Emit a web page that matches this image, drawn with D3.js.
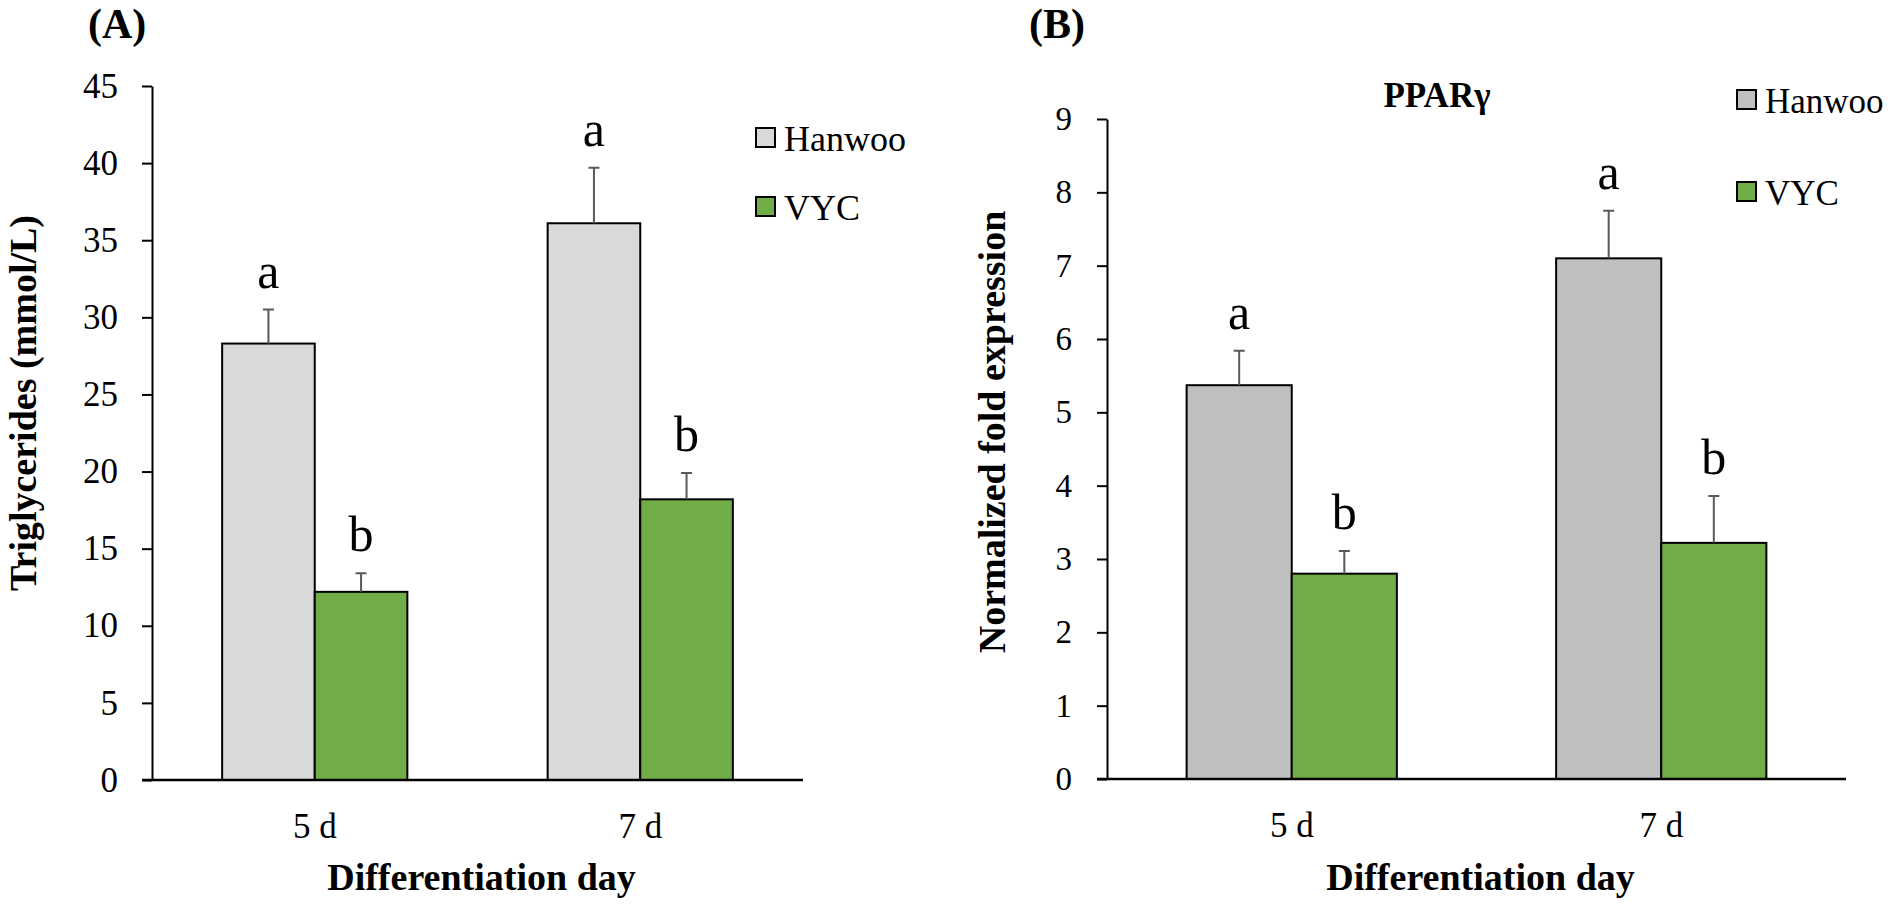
<!DOCTYPE html>
<html>
<meta charset="utf-8">
<style>
body { margin: 0; background: #fff; }
svg text { font-family: "Liberation Serif", "Times New Roman", serif; fill: #000; }
</style>
<body>
<script src="https://cdnjs.cloudflare.com/ajax/libs/d3/7.8.5/d3.min.js"></script>
<script>

var days = ["5 d", "7 d"];
var groups = ["Hanwoo", "VYC"];

// (A) triglycerides, mmol/L
var tgHanwoo = [28.3, 36.1];
var tgHanwooSE = [2.2, 3.6];
var tgVYC = [12.2, 18.2];
var tgVYCSE = [1.2, 1.7];
var tgTicks = [0, 5, 10, 15, 20, 25, 30, 35, 40, 45];

// (B) PPARγ normalized fold expression
var ppHanwoo = [5.37, 7.10];
var ppHanwooSE = [0.47, 0.65];
var ppVYC = [2.80, 3.22];
var ppVYCSE = [0.31, 0.64];
var ppTicks = [0, 1, 2, 3, 4, 5, 6, 7, 8, 9];

var hanwooLetters = ["a", "a"];
var vycLetters = ["b", "b"];

var width = 1902, height = 905;
var serif = '"Liberation Serif", "Times New Roman", serif';

var svg = d3.select("body").append("svg")
    .attr("width", width)
    .attr("height", height);

function panel(o) {
  var g = svg.append("g");

  var x0 = d3.scaleBand().domain(days).range([o.left, o.right])
      .paddingInner(0.431).paddingOuter(0.2155);
  var x1 = d3.scaleBand().domain(groups).range([0, x0.bandwidth()]);
  var y = d3.scaleLinear().domain([0, o.max]).range([o.bottom, o.top]);

  var rows = [];
  days.forEach(function (d, i) {
    rows.push({day: d, group: "Hanwoo", v: o.hanwoo[i], se: o.hanwooSE[i], letter: hanwooLetters[i]});
    rows.push({day: d, group: "VYC", v: o.vyc[i], se: o.vycSE[i], letter: vycLetters[i]});
  });

  var cx = function (d) { return x0(d.day) + x1(d.group) + x1.bandwidth() / 2; };

  // y axis
  var ya = g.append("g")
      .attr("transform", "translate(" + o.left + ",0)")
      .call(d3.axisLeft(y).tickValues(o.ticks).tickSize(10).tickSizeOuter(0).tickPadding(o.tickPad));
  ya.attr("font-family", serif).attr("font-size", null);
  ya.select(".domain").attr("stroke", "#000").attr("stroke-width", 2);
  ya.selectAll(".tick line").attr("stroke", "#000").attr("stroke-width", 2);
  ya.selectAll(".tick text").style("font-size", o.tickFont + "px");

  // bars
  g.selectAll(".bar").data(rows).enter().append("rect")
      .attr("class", "bar")
      .attr("x", function (d) { return x0(d.day) + x1(d.group); })
      .attr("y", function (d) { return y(d.v); })
      .attr("width", x1.bandwidth())
      .attr("height", function (d) { return y(0) - y(d.v); })
      .attr("fill", function (d) { return o.colors[d.group]; })
      .attr("stroke", "#000")
      .attr("stroke-width", 2);

  // error bars (upper only)
  g.selectAll(".err").data(rows).enter().append("path")
      .attr("class", "err")
      .attr("fill", "none")
      .attr("stroke", "#595959")
      .attr("stroke-width", 2)
      .attr("d", function (d) {
        var x = cx(d), t = y(d.v + d.se);
        return "M" + x + "," + y(d.v) + "V" + t + "M" + (x - 5.5) + "," + t + "H" + (x + 5.5);
      });

  // significance letters
  g.selectAll(".sig").data(rows).enter().append("text")
      .attr("class", "sig")
      .attr("x", cx)
      .attr("y", function (d) { return y(d.v + d.se) - 22; })
      .attr("text-anchor", "middle")
      .style("font-size", "50px")
      .text(function (d) { return d.letter; });

  // x axis
  g.append("line")
      .attr("x1", o.left - 10).attr("x2", o.right)
      .attr("y1", y(0)).attr("y2", y(0))
      .attr("stroke", "#000").attr("stroke-width", 2.5);

  var xa = g.append("g")
      .attr("transform", "translate(0," + y(0) + ")")
      .call(d3.axisBottom(x0).tickSize(0).tickPadding(33));
  xa.attr("font-family", serif).attr("font-size", null);
  xa.select(".domain").remove();
  xa.selectAll(".tick text").style("font-size", "35px");

  // titles
  g.append("text")
      .attr("x", (o.left + o.right) / 2 + 4)
      .attr("y", 890)
      .attr("text-anchor", "middle")
      .style("font-size", "38px").style("font-weight", "bold")
      .text("Differentiation day");

  g.append("text")
      .attr("transform", "translate(" + o.yTitleX + "," + o.yTitleY + ")rotate(-90)")
      .attr("text-anchor", "middle")
      .style("font-size", "38px").style("font-weight", "bold")
      .text(o.yTitle);

  g.append("text")
      .attr("x", o.labelX).attr("y", 38)
      .style("font-size", "42px").style("font-weight", "bold")
      .text(o.label);

  if (o.title) {
    g.append("text")
        .attr("x", o.titleX).attr("y", 107)
        .attr("text-anchor", "middle")
        .style("font-size", "35px").style("font-weight", "bold")
        .text(o.title);
  }

  // legend
  var leg = g.selectAll(".leg").data(groups).enter().append("g")
      .attr("class", "leg")
      .attr("transform", function (d, i) {
        return "translate(" + o.legX + "," + (o.legY + i * o.legGap) + ")";
      });
  leg.append("rect")
      .attr("width", 19).attr("height", 19)
      .attr("fill", function (d) { return o.colors[d]; })
      .attr("stroke", "#000").attr("stroke-width", 2);
  leg.append("text")
      .attr("x", 28).attr("y", 23)
      .style("font-size", o.legFont + "px")
      .text(function (d) { return d; });
}

panel({
  left: 152, right: 803, top: 86, bottom: 780, max: 45,
  ticks: tgTicks, tickFont: 35, tickPad: 24,
  hanwoo: tgHanwoo, hanwooSE: tgHanwooSE, vyc: tgVYC, vycSE: tgVYCSE,
  colors: {Hanwoo: "#d9d9d9", VYC: "#70ad47"},
  yTitle: "Triglycerides (mmol/L)", yTitleX: 36, yTitleY: 403,
  label: "(A)", labelX: 88,
  legX: 756, legY: 128, legGap: 69, legFont: 36
});

panel({
  left: 1107, right: 1846, top: 119, bottom: 779, max: 9,
  ticks: ppTicks, tickFont: 33, tickPad: 25,
  hanwoo: ppHanwoo, hanwooSE: ppHanwooSE, vyc: ppVYC, vycSE: ppVYCSE,
  colors: {Hanwoo: "#bfbfbf", VYC: "#70ad47"},
  yTitle: "Normalized fold expression", yTitleX: 1005, yTitleY: 432,
  label: "(B)", labelX: 1029,
  title: "PPARγ", titleX: 1437,
  legX: 1737, legY: 90, legGap: 92, legFont: 35
});

</script>
</body>
</html>
